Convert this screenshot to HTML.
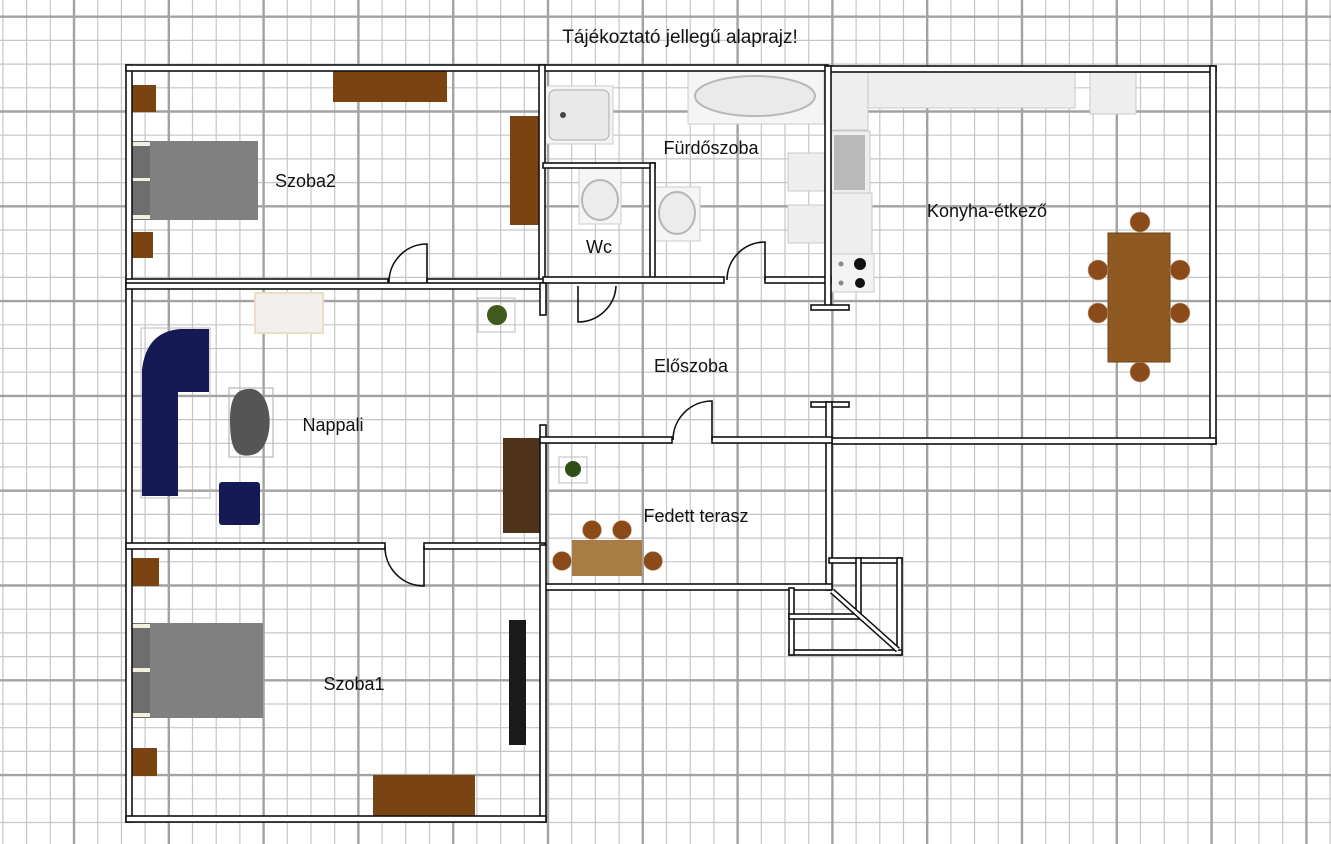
<!DOCTYPE html>
<html><head><meta charset="utf-8"><style>
html,body{margin:0;padding:0;background:#fff;}
svg{display:block;}
text{font-family:"Liberation Sans",sans-serif;fill:#111;}
.w{fill:#fff;stroke:#111;stroke-width:1.6;}
.d{fill:none;stroke:#111;stroke-width:1.6;}
.br{fill:#7a4312;}
.ch{fill:#8b4a1a;stroke:#c9a889;stroke-width:0.6;}
.fx{fill:#eeeeee;stroke:#c8c8c8;stroke-width:1;}
</style></head><body>
<svg width="1331" height="844" viewBox="0 0 1331 844" xmlns="http://www.w3.org/2000/svg">
<rect width="1331" height="844" fill="#fff"/>
<path stroke="#c6c6c6" stroke-width="1.2" fill="none" d="
M2.9 0V844M26.6 0V844M50.3 0V844M97.7 0V844M121.4 0V844M145.1 0V844M192.5 0V844M216.2 0V844M239.9 0V844M287.3 0V844M311 0V844M334.7 0V844M382.1 0V844M405.8 0V844M429.5 0V844M476.9 0V844M500.6 0V844M524.3 0V844M571.7 0V844M595.4 0V844M619.1 0V844M666.5 0V844M690.2 0V844M713.9 0V844M761.3 0V844M785 0V844M808.7 0V844M856.1 0V844M879.8 0V844M903.5 0V844M950.9 0V844M974.6 0V844M998.3 0V844M1045.7 0V844M1069.4 0V844M1093.1 0V844M1140.5 0V844M1164.2 0V844M1187.9 0V844M1235.3 0V844M1259 0V844M1282.7 0V844M1330 0V844
M0 40.4H1331M0 64.1H1331M0 87.8H1331M0 135.2H1331M0 158.9H1331M0 182.6H1331M0 230H1331M0 253.7H1331M0 277.4H1331M0 324.8H1331M0 348.5H1331M0 372.2H1331M0 419.6H1331M0 443.3H1331M0 467H1331M0 514.4H1331M0 538.1H1331M0 561.8H1331M0 609.2H1331M0 632.9H1331M0 656.6H1331M0 704H1331M0 727.7H1331M0 751.4H1331M0 798.8H1331M0 822.5H1331"/>
<path stroke="#a2a2a2" stroke-width="2.4" fill="none" d="
M74 0V844M168.8 0V844M263.6 0V844M358.4 0V844M453.2 0V844M548 0V844M642.8 0V844M737.6 0V844M832.4 0V844M927.2 0V844M1022 0V844M1116.8 0V844M1211.6 0V844M1306.4 0V844
M0 16.7H1331M0 111.5H1331M0 206.3H1331M0 301.1H1331M0 395.9H1331M0 490.7H1331M0 585.5H1331M0 680.3H1331M0 775.1H1331"/>

<text x="680" y="43" font-size="19" text-anchor="middle">Tájékoztató jellegű alaprajz!</text>

<!-- Szoba2 -->
<rect class="br" x="128" y="85" width="28" height="27"/>
<rect class="br" x="129" y="232" width="24" height="26"/>
<rect x="150" y="141" width="108" height="79" fill="#808080"/>
<rect x="130" y="141" width="20" height="79" fill="#6e6e6e"/>
<rect x="130" y="142" width="20" height="4" fill="#f2efe0"/><rect x="130" y="178" width="20" height="3" fill="#f2efe0"/><rect x="130" y="215" width="20" height="4" fill="#f2efe0"/>
<rect class="br" x="333" y="67" width="114" height="35"/>
<rect class="br" x="510" y="116" width="30" height="109"/>
<!-- Bath -->
<rect x="543" y="86" width="70" height="58" fill="#f4f4f4" stroke="#ccc"/>
<rect x="549" y="90" width="60" height="50" rx="6" fill="#e9e9e9" stroke="#aaa"/>
<circle cx="563" cy="115" r="3" fill="#444"/>
<rect x="688" y="68" width="136" height="56" fill="#f5f5f5" stroke="#ccc"/>
<ellipse cx="755" cy="96" rx="60" ry="20" fill="#eaeaea" stroke="#b8b8b8" stroke-width="2"/>
<rect x="579" y="168" width="42" height="56" fill="#f5f5f5" stroke="#ccc"/>
<ellipse cx="600" cy="200" rx="18" ry="20" fill="#ececec" stroke="#b5b5b5" stroke-width="2"/>
<rect x="654" y="187" width="46" height="54" fill="#f5f5f5" stroke="#ccc"/>
<ellipse cx="677" cy="213" rx="18" ry="21" fill="#ececec" stroke="#b5b5b5" stroke-width="2"/>
<rect class="fx" x="788" y="153" width="40" height="38"/>
<rect class="fx" x="788" y="205" width="40" height="38"/>
<!-- Kitchen -->
<rect class="fx" x="830" y="70" width="38" height="60"/>
<rect class="fx" x="868" y="70" width="207" height="38"/>
<rect class="fx" x="1090" y="70" width="46" height="44"/>
<rect class="fx" x="831" y="131" width="39" height="62"/>
<rect x="834" y="135" width="31" height="55" fill="#b9b9b9"/>
<rect class="fx" x="831" y="193" width="41" height="61"/>
<rect x="830" y="254" width="44" height="38" fill="#f3f3f3" stroke="#ccc"/>
<circle cx="860" cy="264" r="6" fill="#111"/><circle cx="860" cy="283" r="5" fill="#111"/>
<circle cx="841" cy="264" r="2.5" fill="#888"/><circle cx="841" cy="283" r="2.5" fill="#888"/>
<rect x="1108" y="233" width="62" height="129" fill="#8e5a22" stroke="#6a4318"/>
<circle class="ch" cx="1140" cy="222" r="10"/><circle class="ch" cx="1098" cy="270" r="10"/><circle class="ch" cx="1180" cy="270" r="10"/>
<circle class="ch" cx="1098" cy="313" r="10"/><circle class="ch" cx="1180" cy="313" r="10"/><circle class="ch" cx="1140" cy="372" r="10"/>
<!-- Nappali -->
<rect x="255" y="293" width="68" height="40" fill="#f1f0ec" stroke="#eadfc2" stroke-width="2"/>
<rect x="141" y="328" width="69" height="170" fill="none" stroke="#bbb"/>
<path d="M142,370 Q146,332 180,329 L209,329 L209,392 L178,392 L178,496 L142,496 Z" fill="#151a55"/>
<rect x="229" y="388" width="44" height="69" fill="none" stroke="#aaa"/>
<path d="M252,389 C275,392 276,450 252,455 C236,458 230,450 230,420 C230,395 238,388 252,389 Z" fill="#555"/>
<rect x="219" y="482" width="41" height="43" rx="3" fill="#151a55"/>
<rect x="478" y="298" width="37" height="34" fill="none" stroke="#bbb"/>
<circle cx="497" cy="315" r="10" fill="#3f5a1c"/>
<rect x="503" y="438" width="37" height="95" fill="#4e3219"/>
<!-- Terrace -->
<rect x="559" y="457" width="28" height="26" fill="none" stroke="#bbb"/>
<circle cx="573" cy="469" r="8" fill="#2f4d17"/>
<rect x="572" y="540" width="70" height="36" fill="#a87c45"/>
<circle class="ch" cx="592" cy="530" r="9.5"/><circle class="ch" cx="622" cy="530" r="9.5"/><circle class="ch" cx="562" cy="561" r="9.5"/><circle class="ch" cx="653" cy="561" r="9.5"/>
<!-- Szoba1 -->
<rect class="br" x="130" y="558" width="29" height="28"/>
<rect class="br" x="130" y="748" width="27" height="28"/>
<rect x="150" y="623" width="113" height="95" fill="#808080"/>
<rect x="130" y="623" width="20" height="95" fill="#6e6e6e"/>
<rect x="130" y="624" width="20" height="4" fill="#f2efe0"/><rect x="130" y="668" width="20" height="4" fill="#f2efe0"/><rect x="130" y="713" width="20" height="4" fill="#f2efe0"/>
<rect x="509" y="620" width="17" height="125" fill="#1a1a1a"/>
<rect class="br" x="373" y="775" width="102" height="41"/>

<!-- walls -->
<g class="w">
<rect x="126" y="65" width="6" height="757"/>
<rect x="126" y="65" width="702" height="6"/>
<rect x="826" y="66" width="390" height="6"/>
<rect x="1210" y="66" width="6" height="378"/>
<rect x="829" y="438" width="387" height="6"/>
<rect x="539" y="65" width="6" height="218"/>
<rect x="126" y="279" width="262" height="6"/><rect x="427" y="279" width="118" height="6"/>
<rect x="543" y="163" width="112" height="5"/>
<rect x="650" y="163" width="5" height="118"/>
<rect x="543" y="277" width="181" height="6"/><rect x="765" y="277" width="66" height="6"/>
<rect x="825" y="66" width="6" height="240"/>
<rect x="811" y="305" width="38" height="5"/>
<rect x="811" y="402" width="38" height="5"/>
<rect x="826" y="402" width="6" height="188"/>
<rect x="126" y="283" width="419" height="6"/>
<rect x="540" y="283" width="6" height="32"/>
<rect x="540" y="425" width="6" height="120"/>
<rect x="540" y="437" width="132" height="6"/><rect x="712" y="437" width="120" height="6"/>
<rect x="543" y="584" width="289" height="6"/>
<rect x="126" y="543" width="259" height="6"/><rect x="424" y="543" width="121" height="6"/>
<rect x="540" y="545" width="6" height="277"/>
<rect x="126" y="816" width="420" height="6"/>
<rect x="829" y="558" width="73" height="5"/>
<rect x="897" y="558" width="5" height="97"/>
<rect x="789" y="650" width="113" height="5"/>
<rect x="789" y="588" width="5" height="67"/>
<rect x="789" y="614" width="70" height="5"/>
<rect x="856" y="558" width="5" height="56"/>
</g>
<path d="M832,591 L898,650" stroke="#111" stroke-width="6"/>
<path d="M832,591 L898,650" stroke="#fff" stroke-width="3"/>

<g class="d">
<path d="M427,282 L427,244 A38,38 0 0 0 389,282"/>
<path d="M765,280 L765,242 A38,38 0 0 0 727,280"/>
<path d="M578,286 L578,322 A38,38 0 0 0 616,286"/>
<path d="M712,440 L712,401 A39,39 0 0 0 673,440"/>
<path d="M424,546 L424,586 A39,39 0 0 1 385,547"/>
</g>

<g font-size="18">
<text x="275" y="187">Szoba2</text>
<text x="711" y="154" text-anchor="middle">Fürdőszoba</text>
<text x="599" y="253" text-anchor="middle">Wc</text>
<text x="987" y="217" text-anchor="middle">Konyha-étkező</text>
<text x="333" y="431" text-anchor="middle">Nappali</text>
<text x="691" y="372" text-anchor="middle">Előszoba</text>
<text x="696" y="522" text-anchor="middle">Fedett terasz</text>
<text x="354" y="690" text-anchor="middle">Szoba1</text>
</g>
</svg>
</body></html>
